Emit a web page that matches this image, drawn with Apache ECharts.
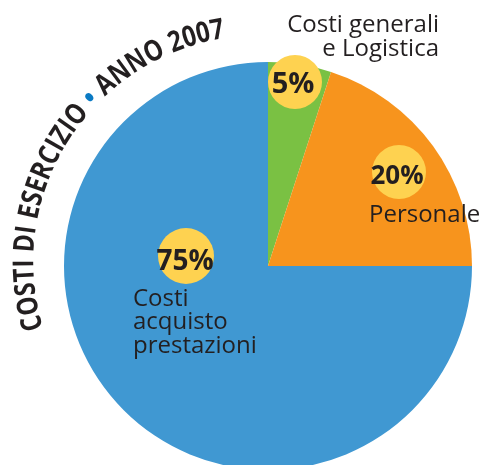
<!DOCTYPE html>
<html>
<head>
<meta charset="utf-8">
<script src="https://cdn.jsdelivr.net/npm/echarts@6/dist/echarts.min.js"></script>
<style>
  html, body { margin: 0; padding: 0; background: #ffffff; }
  #chart { width: 482px; height: 465px; }
</style>
</head>
<body>
<div id="chart"></div>
<script>
// Cost breakdown, year 2007
const categories = ['Costi generali e Logistica', 'Personale', 'Costi acquisto prestazioni'];
const nameLines = [['Costi generali', 'e Logistica'], ['Personale'], ['Costi', 'acquisto', 'prestazioni']];
const shares = [5, 20, 75];
const sliceColors = ['#7ac143', '#f7941d', '#4098d2'];
const titleParts = ['COSTI DI ESERCIZIO ', '•', ' ANNO 2007'];

const ink = '#231f20';
const bubbleFill = '#fed250';
const dotBlue = '#0a7ac4';
const fontFamily = '"Open Sans", "Noto Sans", sans-serif';

// Placement of the percentage bubbles and category names for each slice
const bubbleLayout = [
  { cx: 295, cy: 82, r: 27, tx: 293, ty: 85, size: 29 },
  { cx: 399, cy: 172, r: 27, tx: 397, ty: 177, size: 26 },
  { cx: 186, cy: 256, r: 28, tx: 185, ty: 262, size: 28 }
];
const nameLayout = [
  { x: 439, y: 13, align: 'right', lineHeight: 24 },
  { x: 369, y: 203, align: 'left', lineHeight: 24 },
  { x: 133, y: 287, align: 'left', lineHeight: 23.5 }
];

const chart = echarts.init(document.getElementById('chart'), null, { renderer: 'canvas' });

function textEl(opts) {
  return {
    type: 'text',
    x: opts.x, y: opts.y,
    rotation: opts.rotation || 0,
    scaleY: opts.scaleY || 1,
    z: 100,
    silent: true,
    style: {
      text: opts.text,
      font: opts.font,
      fill: opts.fill || ink,
      align: opts.align || 'center',
      textAlign: opts.align || 'center',
      verticalAlign: opts.verticalAlign || 'middle',
      textVerticalAlign: opts.verticalAlign || 'middle',
      lineHeight: opts.lineHeight
    }
  };
}

const graphics = [];

// Percentage bubbles and slice names
shares.forEach((v, i) => {
  const b = bubbleLayout[i];
  graphics.push({
    type: 'circle', z: 90, silent: true,
    shape: { cx: b.cx, cy: b.cy, r: b.r },
    style: { fill: bubbleFill }
  });
  graphics.push(textEl({
    x: b.tx, y: b.ty, text: v + '%',
    font: 'bold ' + b.size + 'px ' + fontFamily
  }));
  const n = nameLayout[i];
  graphics.push(textEl({
    x: n.x, y: n.y, text: nameLines[i].join('\n'),
    font: '24px ' + fontFamily,
    align: n.align, verticalAlign: 'top', lineHeight: n.lineHeight
  }));
});

// Title set along an arc around the upper-left of the pie, one glyph at a time
const arcFont = 'bold 24px ' + fontFamily;
const tracking = 0.6;
const measureCtx = document.createElement('canvas').getContext('2d');
measureCtx.font = arcFont;
const arcCx = 260, arcCy = 262, arcR = 235;
let theta = 163 * Math.PI / 180;
titleParts.forEach((part, pi) => {
  const colour = pi === 1 ? dotBlue : ink;
  for (const ch of part) {
    const w = measureCtx.measureText(ch).width + tracking;
    const mid = theta + (w / 2) / arcR;
    if (ch !== ' ') {
      graphics.push(textEl({
        x: arcCx + arcR * Math.cos(mid),
        y: arcCy + arcR * Math.sin(mid),
        rotation: -(mid + Math.PI / 2),
        scaleY: 1.2,
        text: ch, font: arcFont, fill: colour
      }));
    }
    theta += w / arcR;
  }
});

chart.setOption({
  animation: false,
  backgroundColor: '#ffffff',
  series: [{
    type: 'pie',
    center: [268, 266],
    radius: 204,
    startAngle: 90,
    clockwise: true,
    silent: true,
    label: { show: false },
    labelLine: { show: false },
    itemStyle: { borderWidth: 0 },
    data: shares.map((v, i) => ({
      name: categories[i],
      value: v,
      itemStyle: { color: sliceColors[i] }
    }))
  }],
  graphic: { elements: graphics }
});
</script>
</body>
</html>
